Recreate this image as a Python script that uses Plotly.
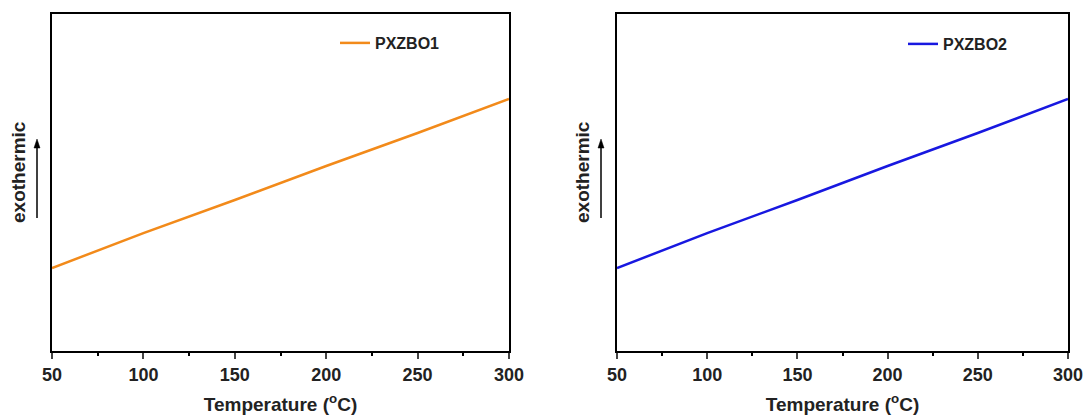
import plotly.graph_objects as go

temperature = [50, 100, 150, 200, 250, 300]
pxzbo1 = [0.246, 0.35, 0.448, 0.549, 0.647, 0.748]
pxzbo2 = [0.246, 0.35, 0.448, 0.549, 0.647, 0.748]
x_ticks = [50, 100, 150, 200, 250, 300]

ML, MR, MT, MB = 0, 0, 14, 67
W, H = 1091, 418
PW = W - ML - MR
PH = H - MT - MB

def px_x(px):
    return (px - ML) / PW

def px_y(py):
    return (H - MB - py) / PH

fig = go.Figure()
fig.add_trace(go.Scatter(x=temperature, y=pxzbo1, mode="lines", name="PXZBO1",
                         line=dict(color="#F28A1A", width=2.5), xaxis="x", yaxis="y", legend="legend"))
fig.add_trace(go.Scatter(x=temperature, y=pxzbo2, mode="lines", name="PXZBO2",
                         line=dict(color="#1818E0", width=2.5), xaxis="x2", yaxis="y2", legend="legend2"))

font = "Liberation Sans, Arial, sans-serif"
xcommon = dict(range=[50, 300], tickvals=x_ticks, ticks="outside", ticklen=6, tickwidth=2,
               showline=True, linewidth=2, linecolor="black", mirror=True, showgrid=False,
               zeroline=False, tickfont=dict(family=font, size=18, color="#222", weight="bold"),
               minor=dict(dtick=25, tick0=25, ticks="outside", ticklen=3, tickwidth=2, tickcolor="black"),
               title=dict(text="Temperature (<sup>o</sup>C)", font=dict(family=font, size=19, color="#222", weight="bold"), standoff=14),
               ticklabelstandoff=0, automargin=False)
ycommon = dict(range=[0, 1], showticklabels=False, ticks="", showline=True, linewidth=2,
               linecolor="black", mirror=True, showgrid=False, zeroline=False, automargin=False)

left_dom = [px_x(52), px_x(509)]
right_dom = [px_x(617), px_x(1068)]

fig.update_layout(
    width=W, height=H,
    margin=dict(l=ML, r=MR, t=MT, b=MB),
    paper_bgcolor="white", plot_bgcolor="white",
    xaxis=dict(domain=left_dom, anchor="y", **xcommon),
    yaxis=dict(domain=[0, 1], anchor="x", **ycommon),
    xaxis2=dict(domain=right_dom, anchor="y2", **xcommon),
    yaxis2=dict(domain=[0, 1], anchor="x2", **ycommon),
    legend=dict(x=px_x(335), y=px_y(43), xanchor="left", yanchor="middle", itemwidth=30,
                bgcolor="rgba(0,0,0,0)", font=dict(family=font, size=16, color="#222", weight="bold")),
    legend2=dict(x=px_x(903), y=px_y(44), xanchor="left", yanchor="middle", itemwidth=30,
                 bgcolor="rgba(0,0,0,0)", font=dict(family=font, size=16, color="#222", weight="bold")),
    showlegend=True,
)

for tx, ax_px in [(18, 37), (582, 601)]:
    fig.add_annotation(xref="paper", yref="paper", x=px_x(tx), y=px_y(172),
                       xanchor="center", yanchor="middle",
                       text="exothermic", textangle=-90, showarrow=False,
                       font=dict(family=font, size=19, color="#222", weight="bold"))
    xa = px_x(ax_px)
    fig.add_shape(type="line", xref="paper", yref="paper",
                  x0=xa, x1=xa, y0=px_y(218), y1=px_y(146),
                  line=dict(color="black", width=1.5))
    fig.add_shape(type="path", xref="paper", yref="paper",
                  path=f"M {xa} {px_y(139)} L {px_x(ax_px - 3)} {px_y(148)} L {px_x(ax_px + 3)} {px_y(148)} Z",
                  fillcolor="black", line=dict(color="black", width=0.5))

fig.write_html("out.html")
